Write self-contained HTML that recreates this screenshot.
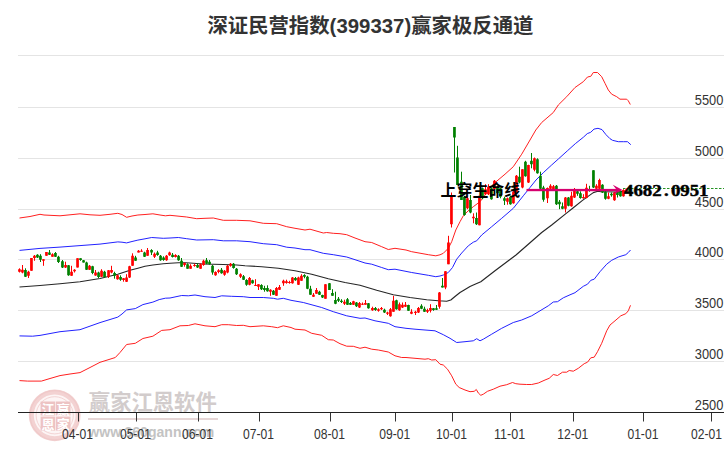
<!DOCTYPE html>
<html lang="zh"><head><meta charset="utf-8"><title>深证民营指数(399337)赢家极反通道</title>
<style>
html,body{margin:0;padding:0;background:#fff;}
body{width:726px;height:450px;position:relative;overflow:hidden;font-family:"Liberation Sans",sans-serif;}
</style></head><body>
<svg role="img" aria-label="深证民营指数(399337)赢家极反通道" width="726" height="450" viewBox="0 0 726 450" style="position:absolute;left:0;top:0">
<rect x="18" y="55" width="706" height="1" fill="#e4e4e4"/>
<rect x="18" y="107" width="706" height="1" fill="#e4e4e4"/>
<rect x="18" y="158" width="706" height="1" fill="#e4e4e4"/>
<rect x="18" y="209" width="706" height="1" fill="#e4e4e4"/>
<rect x="18" y="259" width="706" height="1" fill="#e4e4e4"/>
<rect x="18" y="310" width="706" height="1" fill="#e4e4e4"/>
<rect x="18" y="361" width="706" height="1" fill="#e4e4e4"/>
<g id="wm">
<circle cx="54.7" cy="415.3" r="25.5" fill="#fdf5f5"/>
<circle cx="54.7" cy="415.3" r="23.4" fill="none" stroke="#f3d2d2" stroke-width="5"/>
<circle cx="54.7" cy="415.3" r="24.6" fill="none" stroke="#eec4c4" stroke-width="1.2" opacity="0.7"/>
<circle cx="54.7" cy="415.3" r="18.6" fill="none" stroke="#f3d4d4" stroke-width="1"/>
<rect x="40.6" y="401.5" width="14.6" height="14" fill="#edc3c3"/>
<rect x="55.9" y="401.5" width="14.6" height="14" fill="#edc3c3"/>
<rect x="40.6" y="416.6" width="14.6" height="14" fill="#edc3c3"/>
<rect x="55.9" y="416.6" width="14.6" height="14" fill="#edc3c3"/>
<text x="47.9" y="413.9" text-anchor="middle" font-family="'Liberation Sans', 'Noto Sans CJK SC', sans-serif" font-size="13" font-weight="bold" fill="#fff">江</text>
<text x="63.2" y="413.9" text-anchor="middle" font-family="'Liberation Sans', 'Noto Sans CJK SC', sans-serif" font-size="13" font-weight="bold" fill="#fff">赢</text>
<text x="47.9" y="429" text-anchor="middle" font-family="'Liberation Sans', 'Noto Sans CJK SC', sans-serif" font-size="13" font-weight="bold" fill="#fff">恩</text>
<text x="63.2" y="429" text-anchor="middle" font-family="'Liberation Sans', 'Noto Sans CJK SC', sans-serif" font-size="13" font-weight="bold" fill="#fff">家</text>
<g><title>赢家江恩软件</title><text x="88.8" y="410.2" font-family="'Liberation Sans', 'Noto Sans CJK SC', sans-serif" font-size="21.5" font-weight="bold" fill="#d2cccc" textLength="128" lengthAdjust="spacingAndGlyphs">赢家江恩软件</text></g>
<rect x="88" y="418" width="130" height="2" fill="#e6d6d6"/>
<text x="88.3" y="436.8" font-family="Liberation Sans, sans-serif" font-size="15.5" font-weight="bold" fill="#c3c3c3" textLength="126" lengthAdjust="spacingAndGlyphs">www.360gann.com</text>
</g>
<path d="M19.5 287 L40 285.5 L60 283.7 L80 281.7 L100 278.5 L117.8 274.2 L130 270.3 L137.9 268.2 L145 266.3 L152.9 265 L163.3 263.7 L170 263.3 L178.3 262.7 L186 262.8 L193.3 263.3 L203.3 264 L223.3 264.5 L236.7 265 L245 265.7 L261.7 266.7 L278.3 268.3 L295 270.8 L311.7 274.2 L328.3 278.7 L345 282.5 L360 285.3 L376.7 290.3 L393.3 294.7 L410 297.5 L426.7 299.7 L438.3 300.8 L446.7 301.3 L450.8 300 L455 296.5 L460 292.5 L464.2 290 L470 286.5 L473.3 285 L480.8 281.7 L495 270.8 L516 255 L528.3 244.2 L541.7 232.5 L551.7 225 L565.6 213.9 L573.3 207.8 L582.2 200.6 L593.3 192.6 L597.8 191.2 L601 191.7 L605 191.8 L615 192 L622 191.6 L630.5 191.2" stroke="#262626" stroke-width="1.15" fill="none" stroke-linejoin="round"/>
<path d="M19.5 250.4 L40 248.4 L60 247.1 L80 245.6 L100 244.1 L117.8 241.9 L122 242.2 L126.6 242.9 L132 241.5 L137.9 240.1 L145 238.8 L151.7 237.5 L163.3 238.3 L170 238 L178.3 237.5 L186.7 238.7 L196.7 240 L213.3 239.7 L223.3 240.8 L236.7 240.8 L250 241.7 L263.3 243.7 L276.7 244.7 L286.7 247.2 L295 248 L305 249.7 L310 249.7 L323.3 253.3 L333.3 254.7 L346.7 257 L355 259.7 L365 263 L371.7 264.2 L381.7 267.5 L388.3 269.7 L395 269.2 L411.7 272.5 L428.3 275.3 L435.8 276.7 L440 276 L443.3 275 L448.3 272.5 L452.5 267.5 L456.7 259.2 L461.7 253 L468.3 245.8 L473.3 242.2 L476.7 240.8 L481.7 235 L491.7 226.7 L501.7 218.3 L513.3 208.3 L523.3 195.8 L530 187.5 L536 180 L543.3 172.7 L551.3 165.3 L558.7 158.7 L567.3 150.9 L575.3 143.7 L583.3 137.3 L587.3 133.6 L590.7 132.3 L594 129.1 L598 128.3 L602 129.6 L606 134.7 L610 138.7 L612.5 140.3 L618.3 141.7 L623.3 141.7 L627.5 141.7 L630.8 144.7" stroke="#2222ff" stroke-width="1" fill="none" stroke-linejoin="round"/>
<path d="M19.5 335.9 L32.6 336.2 L40 335.4 L60 331.7 L80 329.7 L100 322.6 L117.8 317.1 L122 314 L126.6 309.9 L135.3 308.6 L142.9 304.6 L152.9 302.1 L159.2 299.6 L165.4 298.2 L170 298 L181.7 295.5 L188.3 295.8 L195 295 L205 296.7 L215 297.5 L221.7 295.8 L231.7 296.3 L243.3 296.7 L250 297.5 L263.3 297.5 L273.3 298.3 L277.5 299.2 L283.3 298.3 L291 300.3 L303.3 302.5 L321.7 307.5 L333.3 311.7 L346.7 315.8 L360 318.3 L365 318 L375 320.8 L388.3 323.3 L395 326.7 L406 328.3 L415 329.2 L425 330 L435 330.8 L443.3 334.7 L450 338.3 L456.7 342.5 L465 341.7 L473.3 340.8 L476.7 338.7 L480 340.8 L483.3 339.2 L491.7 334.2 L501.7 328.3 L513.3 322.5 L521.7 320 L531.7 315.8 L540 310.8 L548.3 305.8 L553.3 302 L557.5 301.7 L563.3 297.8 L570 294.8 L575 292.7 L583.3 286.3 L587.5 284.2 L590.8 280.3 L594.2 279.2 L600 271.7 L606.7 264.2 L611.7 260.3 L618.3 257 L625.8 254.7 L628.3 252.5 L630.5 250" stroke="#2222ff" stroke-width="1" fill="none" stroke-linejoin="round"/>
<path d="M19.5 218 L30 216.5 L40 214.3 L44 215 L60 215.8 L70 214.8 L80 213.8 L90 214.8 L100 215.3 L110 214.3 L117.8 213.3 L122 214.5 L126.6 217.3 L132 216 L137.9 215 L145 214.5 L152.9 213.8 L160 215 L165.4 215.8 L170 215.3 L186.7 217 L196.7 218.7 L205 218.3 L213.3 218 L223.3 220.3 L236.7 220.3 L250 220.8 L263.3 223.3 L276.7 223.7 L286.7 226.7 L295 228.3 L305 230 L310 229.2 L323.3 233 L326.7 232.5 L333.3 233.3 L340 233.7 L346.7 234.7 L355 238 L365 241.7 L371.7 242.5 L381.7 246.7 L388.3 249.5 L395 248.3 L406 250 L411.7 251.7 L428.3 254.7 L435.8 255.8 L440 254.8 L443.3 253.3 L448.3 248.3 L451.7 241.7 L455.8 230 L460 221.7 L463.3 215.8 L468 211 L473.3 206.7 L480 201.7 L484 196.5 L488.3 190 L494.2 183.3 L505 174.2 L513.3 166.7 L521.7 154.2 L530 140 L535.8 130 L541.7 122.5 L553.3 112.5 L558.3 105 L566.7 96.7 L575 87.5 L583.3 81.7 L587.5 77 L590.8 76.3 L593.3 72.5 L597.5 72.5 L601.7 76.7 L605 83.3 L608.3 90 L611.7 94.2 L616.7 96.7 L620 99.2 L626.7 99.2 L628.3 100.8 L630.3 104.5" stroke="#ff2020" stroke-width="1" fill="none" stroke-linejoin="round"/>
<path d="M19.5 380.6 L27.6 381.1 L41.4 381.1 L50 378.5 L60 375.6 L70 374 L80 372.6 L90 367.5 L100 362.3 L108 359.8 L115.3 357.5 L120 352.5 L126.6 344.5 L135.3 343.3 L142.9 338.5 L152.9 336.2 L161.7 330.4 L170 329.7 L180 325.8 L188.3 325.5 L195 323.8 L205 325.8 L215 326.7 L221.7 324.7 L228.3 324.7 L236.7 325.5 L243.3 325.3 L250 326.7 L263.3 325.8 L271.7 326.7 L277.5 327.7 L283.3 325.8 L291 327.5 L295 329.2 L305 330 L311.7 333.3 L321.7 335.3 L328.3 339.7 L333.3 340 L340 343.7 L346.7 346.2 L353.3 346.3 L360 348.3 L365 347.2 L371.7 349.2 L378.3 350 L388.3 352 L395 355.8 L401.7 357.5 L406 357.5 L415 358.3 L425 359.2 L428.3 358.7 L431.7 360 L435.8 359.7 L440 364.2 L443.3 365 L447.5 369.2 L451.7 375.8 L455.8 384.2 L459.2 387.5 L465 390 L470 391.7 L474.2 391.3 L476.3 389.5 L478.3 393 L480.8 395.3 L483.3 394.2 L487.5 391.3 L493.3 389.2 L500 386.2 L506.7 384.7 L512.5 382.5 L515.8 383.7 L520 384.2 L526.7 384.5 L531.7 384.5 L538.3 383 L545 380 L549.2 378.3 L553.3 374.5 L557.5 375.5 L562.5 372.2 L566.7 372.2 L569.2 370.5 L573.3 371.2 L578.3 368.3 L584.2 363.7 L587.5 362.2 L590.8 357.8 L594.2 357.2 L597.5 351.7 L601.7 343.3 L606.7 330.8 L610 325 L615 320.8 L620.8 315.8 L625.8 313.7 L628.3 310.8 L630.5 305.3" stroke="#ff2020" stroke-width="1" fill="none" stroke-linejoin="round"/>
<path d="M25.5 268.3V277M37.5 254.2V258M40.5 254.2V262M49.5 250V255M55.5 252V257M58.5 255.8V263M62.5 260V268M68.5 265V275.8M80.5 258.3V260.8M83.5 260V262.5M86.5 261.7V270M92.5 265.8V274.2M98.5 271.7V278M104.5 270.8V277.5M114.5 271.7V278.7M120.5 275.3V280.8M135.5 255.8V260.8M144.5 251.7V257M151.5 249.2V255M157.5 250.8V255.8M160.5 255V260.8M163.5 256.3V260.8M172.5 253V257.5M178.5 255V260.8M181.5 258V267M187.5 263.3V268.7M197.5 263.3V268M206.5 258V264.2M209.5 260V264.7M212.5 265V274.7M221.5 268V273.7M233.5 263V268.7M236.5 268V275M243.5 275V280M246.5 279.2V285.8M252.5 279.7V283.7M261.5 284.2V290M264.5 285.8V291.7M267.5 285.3V291.7M273.5 290V295M295.5 277V280.8M304.5 274.2V278.3M307.5 275.8V289.2M310.5 285.8V294.7M319.5 290.8V295M322.5 294.7V298M329.5 283V290M332.5 289.2V295.8M335.5 291.7V304.2M338.5 297V302M341.5 299.2V303M347.5 298V305M350.5 302V305M356.5 302V307M368.5 303V308.7M375.5 307V310.8M384.5 308.7V313M396.5 299.7V309.7M408.5 304.7V310.8M421.5 304.2V309.2M424.5 306.7V312M433.5 308V310.8M436.5 305V310M442.5 278V287.5M454.5 127V172.5M457.5 145.8V185M461.5 171.7V200M464.5 195.8V215.8M470.5 195V213.3M476.5 212.5V225M482.5 187.5V199.2M491.5 187.5V199.7M497.5 185.8V194.2M500.5 187.5V198.3M504.5 196.7V205M510.5 195.8V204.7M519.5 166.7V183.3M525.5 160.8V176.7M531.5 153V168.3M537.5 158.3V173.7M540.5 171.7V189.2M543.5 185.8V201.7M556.5 185V205M559.5 200V209.2M562.5 202.5V209.2M568.5 197V206.3M577.5 190V195.8M580.5 191.3V198.7M589.5 185.8V191.7M593.5 170.3V188M602.5 184.2V193M605.5 190.8V199.7M611.5 192.5V196.7M617.5 190.8V197.5M620.5 190.8V196.7M629.5 188V191.7" stroke="#008000" stroke-width="1" fill="none"/>
<path d="M24.1 270h2.7V276.7h-2.7zM36.1 254.7h2.7V257.5h-2.7zM39.1 255.8h2.7V259.7h-2.7zM48.1 252.5h2.7V254.7h-2.7zM54.1 253h2.7V256.7h-2.7zM57.1 256.7h2.7V262h-2.7zM61.1 261.3h2.7V267.5h-2.7zM67.2 265.3h2.7V275.3h-2.7zM79.2 258.3h2.7V260h-2.7zM82.2 260.3h2.7V262.5h-2.7zM85.2 262.5h2.7V269.7h-2.7zM91.2 266.3h2.7V273h-2.7zM97.2 272.5h2.7V277h-2.7zM103.2 271.7h2.7V277h-2.7zM113.2 273h2.7V275.8h-2.7zM119.2 277h2.7V279.7h-2.7zM134.2 257.5h2.7V260.8h-2.7zM143.2 252.5h2.7V256.7h-2.7zM150.2 250h2.7V252.5h-2.7zM156.2 252.5h2.7V255h-2.7zM159.2 255.8h2.7V260.3h-2.7zM162.2 257.5h2.7V260h-2.7zM171.2 254.7h2.7V257h-2.7zM177.2 255.8h2.7V260.3h-2.7zM180.2 260.8h2.7V266.7h-2.7zM186.2 264.2h2.7V268.7h-2.7zM196.2 265h2.7V267.5h-2.7zM205.2 260.3h2.7V263.7h-2.7zM208.2 261.7h2.7V264.2h-2.7zM211.2 265.8h2.7V272.5h-2.7zM220.2 269.7h2.7V273.3h-2.7zM232.2 263.7h2.7V268h-2.7zM235.2 268.7h2.7V274.2h-2.7zM242.2 276.3h2.7V279.7h-2.7zM245.2 280h2.7V284.7h-2.7zM251.2 280.3h2.7V283.3h-2.7zM260.1 285h2.7V289.2h-2.7zM263.1 288h2.7V290h-2.7zM266.1 288h2.7V291.3h-2.7zM272.1 290.8h2.7V294.7h-2.7zM294.1 278h2.7V280.3h-2.7zM303.1 275h2.7V276.7h-2.7zM306.1 276.7h2.7V288.7h-2.7zM309.1 288.7h2.7V294.7h-2.7zM318.1 291.7h2.7V294.7h-2.7zM321.1 295h2.7V297.5h-2.7zM328.1 283.3h2.7V290h-2.7zM331.1 293h2.7V295.8h-2.7zM334.1 300h2.7V303.7h-2.7zM337.1 298.7h2.7V300.8h-2.7zM340.1 300.8h2.7V302h-2.7zM346.1 299.2h2.7V304.7h-2.7zM349.1 303h2.7V304.7h-2.7zM355.1 302.5h2.7V306.3h-2.7zM367.1 303.3h2.7V308.3h-2.7zM374.1 308h2.7V310h-2.7zM383.1 309.7h2.7V312.5h-2.7zM395.1 300.3h2.7V309.2h-2.7zM407.1 305h2.7V310.8h-2.7zM420.1 305.8h2.7V308.7h-2.7zM423.1 308.7h2.7V311.7h-2.7zM432.1 308.3h2.7V310h-2.7zM435.1 308.3h2.7V309.7h-2.7zM441.1 285.8h2.7V287.5h-2.7zM453.1 127h2.7V137.5h-2.7zM456.1 157.5h2.7V185h-2.7zM460.1 181.7h2.7V200h-2.7zM463.1 196.7h2.7V215h-2.7zM469.1 200h2.7V212.5h-2.7zM475.1 218h2.7V224.2h-2.7zM481.1 188.3h2.7V198.3h-2.7zM490.1 188.3h2.7V199.2h-2.7zM496.1 187.5h2.7V193.3h-2.7zM499.1 188.3h2.7V196.7h-2.7zM503.1 198.3h2.7V200.8h-2.7zM509.1 196.7h2.7V204.2h-2.7zM518.1 176.7h2.7V182.5h-2.7zM524.1 161.7h2.7V176.3h-2.7zM530.1 160.8h2.7V164.2h-2.7zM536.1 159.2h2.7V173.3h-2.7zM539.1 175.8h2.7V188.7h-2.7zM542.1 187.5h2.7V199.7h-2.7zM555.1 185.8h2.7V204.2h-2.7zM558.1 201.7h2.7V204.2h-2.7zM561.1 206.3h2.7V208.7h-2.7zM567.1 197.5h2.7V205.8h-2.7zM576.1 191.3h2.7V193.7h-2.7zM579.1 193.3h2.7V198h-2.7zM588.1 189.2h2.7V190.8h-2.7zM592.1 170.3h2.7V187.5h-2.7zM601.1 184.7h2.7V192.5h-2.7zM604.1 191.7h2.7V198.7h-2.7zM610.1 193.7h2.7V195.3h-2.7zM616.1 191.7h2.7V195h-2.7zM619.1 191.7h2.7V196.3h-2.7zM628.1 188.7h2.7V190.8h-2.7z" fill="#008000"/>
<path d="M19.5 268.3V272.5M22.5 265V273.3M28.5 270.8V278M31.5 258V270.8M34.5 255V260.8M43.5 259.2V265.8M46.5 252V255.8M52.5 253.3V256.7M65.5 261.7V268M71.5 265.8V275.8M74.5 269.2V272.5M77.5 258.3V267.5M89.5 265V270M95.5 270V275.8M101.5 269.2V277M108.5 270V278M111.5 265.8V273.3M117.5 274.7V279.7M123.5 278V281.7M126.5 274.2V282M129.5 265.8V278M132.5 253.3V265.8M138.5 250V252.5M141.5 249.2V251.7M147.5 248V255.8M154.5 252.5V258M166.5 255V260.8M169.5 251.7V255.8M175.5 254.2V257.5M184.5 262.5V266.7M190.5 264.2V268.7M194.5 263.7V266.7M200.5 263.3V268.7M203.5 259.7V265.8M215.5 271.3V275.8M218.5 269.2V273.3M224.5 270V275.8M227.5 265V273.3M230.5 263V266.7M240.5 273.3V278M249.5 277V285.3M255.5 279.2V285.8M258.5 284.2V290M270.5 289.2V295.8M276.5 287V295.8M279.5 285V290M283.5 279.7V285.8M286.5 279.7V283.7M289.5 280.8V283.7M292.5 277V283.7M298.5 276.7V285M301.5 274.2V280.8M313.5 293V297M316.5 288V293.7M325.5 284.2V298.7M344.5 299.7V305M353.5 300.8V305M359.5 302V308M362.5 302.5V305M365.5 300V304.7M372.5 306.7V310.8M378.5 308.3V311.7M381.5 307V310M387.5 311.7V315M390.5 308V316.7M393.5 295.8V311.7M399.5 302.5V310.8M402.5 302.5V308M405.5 302V307M411.5 309.2V314.2M415.5 310.8V315M418.5 307V313M427.5 308.7V313M430.5 304.2V312.5M439.5 292V308.7M445.5 271.2V289.2M448.5 235.8V264.2M451.5 192.5V227.5M467.5 196.7V209.2M473.5 213.3V223.3M479.5 195.8V225.3M485.5 184.2V195M488.5 184.2V195M494.5 180V190M507.5 197.5V204.7M513.5 190.8V203.7M516.5 175V192.5M522.5 169.2V188.3M528.5 164.7V183M534.5 157.5V171.3M547.5 187.5V203M550.5 184.2V189.2M553.5 185V190M565.5 197V212.5M571.5 191.7V206.7M574.5 188V198M583.5 194.2V198.7M586.5 183.8V198.3M596.5 184.2V189.2M599.5 178.7V189.2M608.5 192.5V199.2M614.5 191.7V200.8M623.5 189.2V196.7M626.5 188.3V192.5" stroke="#ff0000" stroke-width="1" fill="none"/>
<path d="M18.1 269.2h2.7V271.7h-2.7zM21.1 269.7h2.7V272.5h-2.7zM27.1 271.7h2.7V275.8h-2.7zM30.1 258h2.7V270.8h-2.7zM33.1 255.8h2.7V258h-2.7zM42.1 259.2h2.7V260.8h-2.7zM45.1 252h2.7V255.8h-2.7zM51.1 254.2h2.7V256.7h-2.7zM64.2 265h2.7V267.5h-2.7zM70.2 271.7h2.7V275.8h-2.7zM73.2 269.7h2.7V271.3h-2.7zM76.2 258.3h2.7V267.5h-2.7zM88.2 265.8h2.7V269.7h-2.7zM94.2 272.5h2.7V275.5h-2.7zM100.2 270.8h2.7V276.7h-2.7zM107.2 270.3h2.7V276.7h-2.7zM110.2 270h2.7V272.5h-2.7zM116.2 275.3h2.7V279.2h-2.7zM122.2 278.3h2.7V280h-2.7zM125.2 277.5h2.7V281.7h-2.7zM128.2 266.2h2.7V277.5h-2.7zM131.2 255.8h2.7V265.8h-2.7zM137.2 250.8h2.7V252.5h-2.7zM140.2 250.8h2.7V251.8h-2.7zM146.2 250h2.7V255.8h-2.7zM153.2 253.7h2.7V256.7h-2.7zM165.2 255.8h2.7V260.3h-2.7zM168.2 252.5h2.7V255.3h-2.7zM174.2 255h2.7V257h-2.7zM183.2 263h2.7V265h-2.7zM189.2 265.8h2.7V268.7h-2.7zM193.2 265h2.7V266h-2.7zM199.2 264.2h2.7V268.7h-2.7zM202.2 260.8h2.7V265h-2.7zM214.2 272h2.7V275.3h-2.7zM217.2 270.3h2.7V272h-2.7zM223.2 270.8h2.7V274.7h-2.7zM226.2 265.8h2.7V272.5h-2.7zM229.2 263.7h2.7V265.8h-2.7zM239.2 274.2h2.7V276.7h-2.7zM248.2 278h2.7V284.7h-2.7zM254.2 285h2.7V286h-2.7zM257.1 284.2h2.7V286.7h-2.7zM269.1 289.7h2.7V291.7h-2.7zM275.1 288h2.7V295.8h-2.7zM278.1 287h2.7V289.7h-2.7zM282.1 280.8h2.7V283.3h-2.7zM285.1 281.3h2.7V283h-2.7zM288.1 282h2.7V283h-2.7zM291.1 277.5h2.7V283.3h-2.7zM297.1 277.5h2.7V284.7h-2.7zM300.1 275.8h2.7V280.8h-2.7zM312.1 294.7h2.7V296.7h-2.7zM315.1 290h2.7V293.7h-2.7zM324.1 284.2h2.7V298.7h-2.7zM343.1 301.7h2.7V303.7h-2.7zM352.1 301.3h2.7V304.7h-2.7zM358.1 303h2.7V307.5h-2.7zM361.1 303.7h2.7V304.7h-2.7zM364.1 303h2.7V304.7h-2.7zM371.1 308h2.7V310.3h-2.7zM377.1 309.2h2.7V310.8h-2.7zM380.1 308h2.7V309.2h-2.7zM386.1 312.5h2.7V313.7h-2.7zM389.1 309.2h2.7V316.3h-2.7zM392.1 300.8h2.7V311.7h-2.7zM398.1 304.2h2.7V310.3h-2.7zM401.1 304.7h2.7V307.5h-2.7zM404.1 304.7h2.7V306.7h-2.7zM410.1 311.7h2.7V313.7h-2.7zM414.1 311.7h2.7V313h-2.7zM417.1 308h2.7V312.5h-2.7zM426.1 310h2.7V311.7h-2.7zM429.1 308h2.7V310.8h-2.7zM438.1 292.5h2.7V306.7h-2.7zM444.1 271.2h2.7V287.5h-2.7zM447.1 242.5h2.7V264.2h-2.7zM450.1 196.7h2.7V224.2h-2.7zM466.1 198.3h2.7V208.3h-2.7zM472.1 216.7h2.7V218.3h-2.7zM478.1 195.8h2.7V225.3h-2.7zM484.1 189.2h2.7V194.2h-2.7zM487.1 186.7h2.7V194.2h-2.7zM493.1 180.8h2.7V189.2h-2.7zM506.1 198.3h2.7V201.7h-2.7zM512.1 191.7h2.7V203.3h-2.7zM515.1 175.8h2.7V191.7h-2.7zM521.1 169.2h2.7V187.5h-2.7zM527.1 165h2.7V182.5h-2.7zM533.1 158.3h2.7V169.7h-2.7zM546.1 188h2.7V198.3h-2.7zM549.1 185.8h2.7V188.7h-2.7zM552.1 186.3h2.7V189.2h-2.7zM564.1 197.5h2.7V208.7h-2.7zM570.1 195.8h2.7V206.3h-2.7zM573.1 190.8h2.7V197.5h-2.7zM582.1 197h2.7V198.3h-2.7zM585.1 187.8h2.7V198h-2.7zM595.1 185.8h2.7V188.7h-2.7zM598.1 180h2.7V188.7h-2.7zM607.1 196.3h2.7V198.7h-2.7zM613.1 192.5h2.7V200.3h-2.7zM622.1 190h2.7V196.3h-2.7zM625.1 189.2h2.7V191.7h-2.7z" fill="#ff0000"/>
<rect x="18" y="412" width="706" height="1" fill="#222"/>
<rect x="78" y="413" width="1" height="8.5" fill="#333"/>
<text x="77.5" y="439" text-anchor="middle" font-family="Liberation Sans, sans-serif" font-size="14" textLength="31" lengthAdjust="spacingAndGlyphs" fill="#333">04-01</text>
<rect x="136" y="413" width="1" height="8.5" fill="#333"/>
<text x="135.4" y="439" text-anchor="middle" font-family="Liberation Sans, sans-serif" font-size="14" textLength="31" lengthAdjust="spacingAndGlyphs" fill="#333">05-01</text>
<rect x="198" y="413" width="1" height="8.5" fill="#333"/>
<text x="197.4" y="439" text-anchor="middle" font-family="Liberation Sans, sans-serif" font-size="14" textLength="31" lengthAdjust="spacingAndGlyphs" fill="#333">06-01</text>
<rect x="259" y="413" width="1" height="8.5" fill="#333"/>
<text x="258.6" y="439" text-anchor="middle" font-family="Liberation Sans, sans-serif" font-size="14" textLength="31" lengthAdjust="spacingAndGlyphs" fill="#333">07-01</text>
<rect x="330" y="413" width="1" height="8.5" fill="#333"/>
<text x="329.6" y="439" text-anchor="middle" font-family="Liberation Sans, sans-serif" font-size="14" textLength="31" lengthAdjust="spacingAndGlyphs" fill="#333">08-01</text>
<rect x="395" y="413" width="1" height="8.5" fill="#333"/>
<text x="394.7" y="439" text-anchor="middle" font-family="Liberation Sans, sans-serif" font-size="14" textLength="31" lengthAdjust="spacingAndGlyphs" fill="#333">09-01</text>
<rect x="452" y="413" width="1" height="8.5" fill="#333"/>
<text x="451.5" y="439" text-anchor="middle" font-family="Liberation Sans, sans-serif" font-size="14" textLength="31" lengthAdjust="spacingAndGlyphs" fill="#333">10-01</text>
<rect x="510" y="413" width="1" height="8.5" fill="#333"/>
<text x="509.6" y="439" text-anchor="middle" font-family="Liberation Sans, sans-serif" font-size="14" textLength="31" lengthAdjust="spacingAndGlyphs" fill="#333">11-01</text>
<rect x="573" y="413" width="1" height="8.5" fill="#333"/>
<text x="572.7" y="439" text-anchor="middle" font-family="Liberation Sans, sans-serif" font-size="14" textLength="31" lengthAdjust="spacingAndGlyphs" fill="#333">12-01</text>
<rect x="643" y="413" width="1" height="8.5" fill="#333"/>
<text x="642.9" y="439" text-anchor="middle" font-family="Liberation Sans, sans-serif" font-size="14" textLength="31" lengthAdjust="spacingAndGlyphs" fill="#333">01-01</text>
<rect x="711" y="413" width="1" height="8.5" fill="#333"/>
<text x="706.5" y="439" text-anchor="middle" font-family="Liberation Sans, sans-serif" font-size="14" textLength="31" lengthAdjust="spacingAndGlyphs" fill="#333">02-01</text>
<text x="723.4" y="105" text-anchor="end" font-family="Liberation Sans, sans-serif" font-size="14" textLength="28.6" lengthAdjust="spacingAndGlyphs" fill="#333">5500</text>
<text x="723.4" y="156" text-anchor="end" font-family="Liberation Sans, sans-serif" font-size="14" textLength="28.6" lengthAdjust="spacingAndGlyphs" fill="#333">5000</text>
<text x="723.4" y="207" text-anchor="end" font-family="Liberation Sans, sans-serif" font-size="14" textLength="28.6" lengthAdjust="spacingAndGlyphs" fill="#333">4500</text>
<text x="723.4" y="257" text-anchor="end" font-family="Liberation Sans, sans-serif" font-size="14" textLength="28.6" lengthAdjust="spacingAndGlyphs" fill="#333">4000</text>
<text x="723.4" y="308" text-anchor="end" font-family="Liberation Sans, sans-serif" font-size="14" textLength="28.6" lengthAdjust="spacingAndGlyphs" fill="#333">3500</text>
<text x="723.4" y="359" text-anchor="end" font-family="Liberation Sans, sans-serif" font-size="14" textLength="28.6" lengthAdjust="spacingAndGlyphs" fill="#333">3000</text>
<text x="723.4" y="410" text-anchor="end" font-family="Liberation Sans, sans-serif" font-size="14" textLength="28.6" lengthAdjust="spacingAndGlyphs" fill="#333">2500</text>
<path d="M623 188.5H724" stroke="#008000" stroke-width="1" stroke-dasharray="2.5 1.5" opacity="0.85" fill="none"/>
<rect x="526.5" y="188.9" width="91" height="2.3" fill="#d6006f"/>
<path d="M622.6 190L612.8 184.8L616.8 190L613.6 194.2Z" fill="#d6006f"/>
<g><title>上穿生命线</title><text x="440.6" y="196.3" font-family="'Liberation Sans', 'Noto Sans CJK SC', sans-serif" font-size="16" font-weight="bold" fill="#000" textLength="79.5" lengthAdjust="spacingAndGlyphs">上穿生命线</text></g>
<g transform="translate(624.1 0) scale(1.07 1)"><text x="4.4 13.1 21.9 30.7 39.4 48.2 56.9 65.7 74.4" y="195.6" text-anchor="middle" font-family="Liberation Serif, serif" font-size="17.6" font-weight="bold" fill="#000" stroke="#000" stroke-width="0.45">4682.0951</text></g>
<g><title>深证民营指数(399337)赢家极反通道</title><text x="370.4" y="33" text-anchor="middle" font-family="'Liberation Sans', 'Noto Sans CJK SC', sans-serif" font-size="20" font-weight="bold" fill="#333" textLength="326" lengthAdjust="spacingAndGlyphs">深证民营指数(399337)赢家极反通道</text></g>
</svg>
</body></html>
